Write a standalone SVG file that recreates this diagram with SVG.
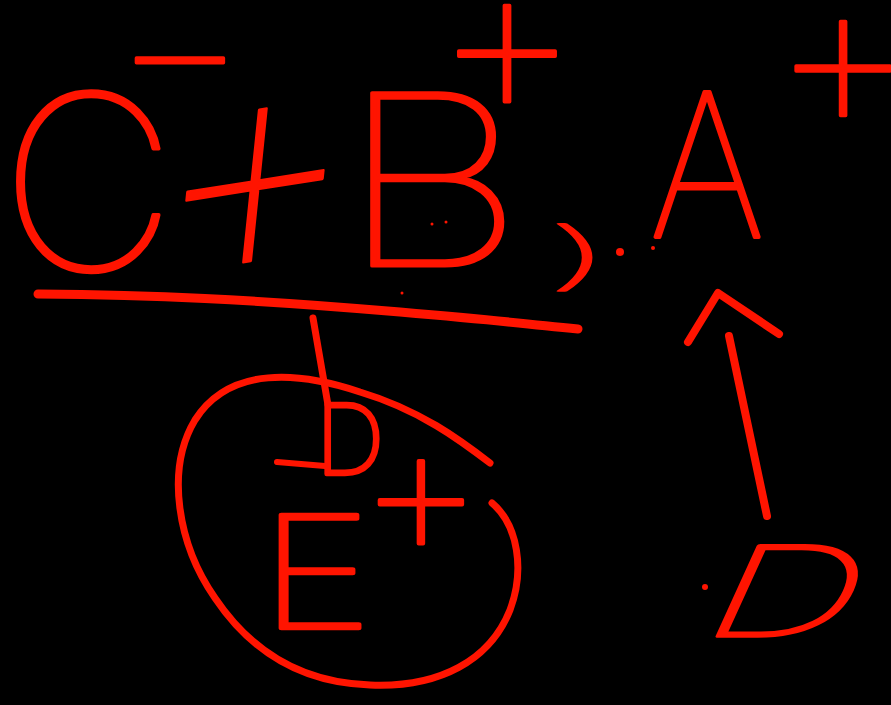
<svg xmlns="http://www.w3.org/2000/svg" width="891" height="705" viewBox="0 0 891 705">
<style>
.t{fill:#ff1400;stroke:#ff1400;stroke-linejoin:round;stroke-linecap:round;font-family:Inter,"Lato","DejaVu Sans",sans-serif;font-weight:100;text-anchor:middle}
.c{dominant-baseline:central}
.s{fill:none;stroke:#ff1400;stroke-linecap:round;stroke-linejoin:round}
.d{fill:#ff1400}
</style>
<rect width="891" height="705" fill="#000"/>
<g id="minus"><text class="t c" x="180" y="43" font-size="211" stroke-width="3.5">−</text></g>
<g id="C"><text class="t" x="88" y="270" font-size="243" stroke-width="3.5">C</text></g>
<g id="plus1"><text class="t c" x="0" y="-26" font-size="330" stroke-width="2.5" transform="translate(255 185) skewY(-9) skewX(-6) scale(1 1.1)">+</text></g>
<g id="B"><text class="t" x="0" y="0" font-size="238" stroke-width="3" transform="translate(432 266) scale(1.22 1)">B</text></g>
<g id="plusB"><text class="t c" x="507" y="34" font-size="234" stroke-width="3.5">+</text></g>
<g id="comma"><text class="t" x="0" y="0" font-size="74" stroke-width="1.6" transform="translate(580 281) scale(3.2 1)">)</text></g>
<g id="A"><text class="t" x="0" y="0" font-size="200" stroke-width="4" transform="translate(707 237) scale(0.9 1)">A</text></g>
<g id="plusA"><text class="t c" x="843" y="50" font-size="228" stroke-width="3.5">+</text></g>
<g id="E"><text class="t" x="0" y="0" font-size="155" stroke-width="4.5" transform="translate(316 628) scale(1.25 1)">E</text></g>
<g id="plusE"><text class="t c" x="421" y="486" font-size="200" stroke-width="4">+</text></g>
<g id="D1"><text class="t" x="350" y="474" font-size="96" stroke-width="4.5">D</text></g>
<g id="D2"><text class="t" x="0" y="0" font-size="124" stroke-width="3.5" transform="translate(770 636) scale(1.7 1) skewX(-15)">D</text></g>
<g id="dots">
<circle class="d" cx="620" cy="252" r="4"/><circle class="d" cx="653" cy="248" r="2"/>
<circle class="d" cx="432" cy="224" r="1.5"/><circle class="d" cx="446" cy="222" r="1.5"/>
<circle class="d" cx="402" cy="293" r="1.5"/><circle class="d" cx="705" cy="587" r="3"/>
</g>
<g id="connectors">
<path class="s" stroke-width="9" d="M38 294 C150 295 250 299 400 312 S540 326 578 329"/>
<path class="s" stroke-width="7" d="M313 318 L328 405"/>
<path class="s" stroke-width="6" d="M277 462 L325 466"/>
<path class="s" stroke-width="7" d="M490 463 C460 440 420 410 360 392 C300 372 230 365 195 420 C165 470 178 545 215 598 C250 650 300 683 370 685 C440 688 490 660 510 610 C525 570 518 525 492 503"/>
<path class="s" stroke-width="8" d="M729 336 L767 516"/>
<path class="s" stroke-width="8" d="M688 342 L718 293 L779 334"/>
</g>
</svg>
